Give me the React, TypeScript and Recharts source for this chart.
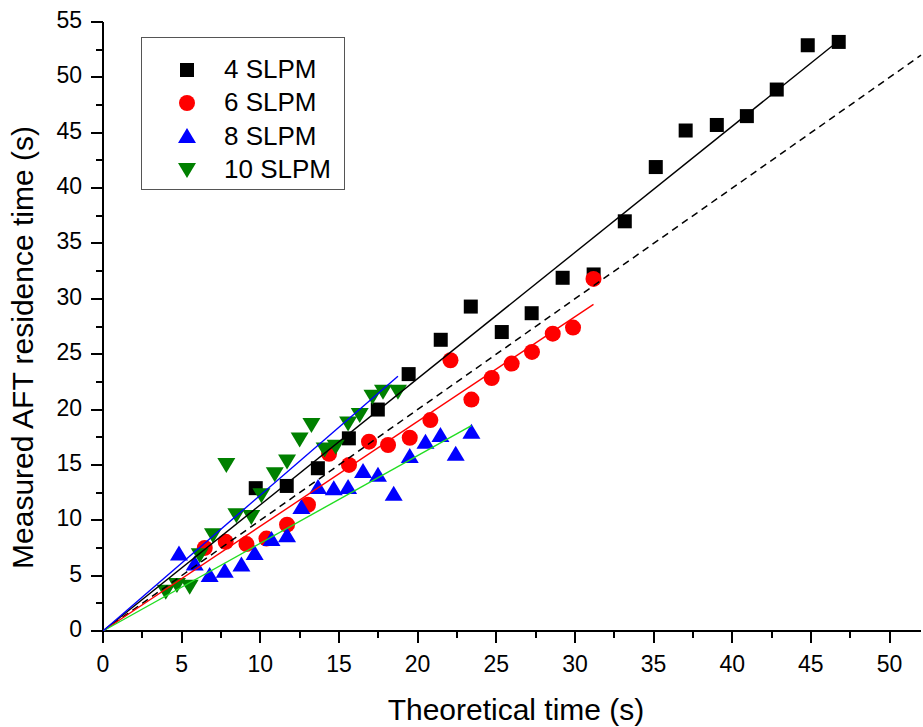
import { ScatterChart, Scatter, XAxis, YAxis, Legend } from 'recharts';

const seriesNames = ['4 SLPM', '6 SLPM', '8 SLPM', '10 SLPM'];
const markerColors = ['#000000', '#ff0000', '#0000ff', '#008000'];
const fitColors = ['#000000', '#ff0000', '#22dd22', '#0000ff'];

const x4 = [9.71, 11.68, 13.66, 15.63, 17.47, 19.43, 21.47, 23.38, 25.35, 27.25, 29.22, 31.19, 33.17, 35.14, 37.04, 39.02, 40.93, 42.83, 44.8, 46.77];
const y4 = [12.9, 13.1, 14.7, 17.4, 20.0, 23.2, 26.3, 29.3, 27.0, 28.7, 31.9, 32.2, 37.0, 41.9, 45.2, 45.7, 46.5, 48.9, 52.9, 53.2];

const x6 = [6.47, 7.8, 9.12, 10.39, 11.7, 13.03, 14.37, 15.64, 16.91, 18.12, 19.5, 20.81, 22.09, 23.42, 24.71, 25.98, 27.27, 28.59, 29.88, 31.18];
const y6 = [7.5, 8.05, 7.85, 8.35, 9.6, 11.4, 16.0, 15.0, 17.1, 16.8, 17.45, 19.05, 24.45, 20.9, 22.85, 24.15, 25.2, 26.85, 27.4, 31.8];

const x8 = [4.83, 5.83, 6.78, 7.74, 8.8, 9.64, 10.71, 11.7, 12.61, 13.67, 14.67, 15.58, 16.53, 17.48, 18.48, 19.5, 20.5, 21.45, 22.42, 23.42];
const y8 = [7.0, 6.1, 5.05, 5.45, 6.0, 7.05, 8.3, 8.65, 11.2, 13.0, 12.9, 13.0, 14.45, 14.1, 12.4, 15.8, 17.1, 17.7, 16.0, 18.0];

const x10 = [3.99, 4.7, 5.51, 6.15, 6.99, 7.84, 8.48, 9.43, 10.07, 10.92, 11.7, 12.5, 13.25, 14.09, 14.79, 15.58, 16.32, 17.13, 17.8, 18.75];
const y10 = [3.55, 4.15, 4.0, 6.85, 8.65, 15.0, 10.45, 10.3, 12.25, 14.15, 15.3, 17.3, 18.6, 16.4, 16.65, 18.75, 19.5, 21.15, 21.6, 21.6];

// fitted lines through the origin: end point of each
const fitEndX = [46.77, 31.18, 23.42, 18.75];
const fitEndY = [53.3, 29.5, 18.55, 23.0];
// y = x reference line
const refX = [0, 52];
const refY = [0, 52];

const xTicks = [0, 2.5, 5, 7.5, 10, 12.5, 15, 17.5, 20, 22.5, 25, 27.5, 30, 32.5, 35, 37.5, 40, 42.5, 45, 47.5, 50];
const yTicks = [0, 2.5, 5, 7.5, 10, 12.5, 15, 17.5, 20, 22.5, 25, 27.5, 30, 32.5, 35, 37.5, 40, 42.5, 45, 47.5, 50, 52.5, 55];

const FONT = '"Liberation Sans", Arial, sans-serif';

const toPoints = (xs: number[], ys: number[]) => xs.map((x, i) => ({ x, y: ys[i] }));
const seriesData = [toPoints(x4, y4), toPoints(x6, y6), toPoints(x8, y8), toPoints(x10, y10)];
const fitData = fitEndX.map((x, i) => [{ x: 0, y: 0 }, { x, y: fitEndY[i] }]);
const refData = toPoints(refX, refY);

const drawMarker = (kind: number, cx: number, cy: number, color: string) => {
  if (kind === 0) return <rect x={cx - 7} y={cy - 7} width={14} height={14} fill={color} />;
  if (kind === 1) return <circle cx={cx} cy={cy} r={8} fill={color} />;
  if (kind === 2) return <polygon points={`${cx},${cy - 8} ${cx + 9},${cy + 7} ${cx - 9},${cy + 7}`} fill={color} />;
  return <polygon points={`${cx},${cy + 8} ${cx + 9},${cy - 7} ${cx - 9},${cy - 7}`} fill={color} />;
};

const XTick = (props: any) => {
  const { x, y, payload } = props;
  const major = payload.value % 5 === 0;
  return (
    <g>
      <line x1={x} y1={y} x2={x} y2={y + (major ? 12 : 7)} stroke="#000" strokeWidth={2} shapeRendering="crispEdges" />
      {major && (
        <text x={x} y={y + 41} textAnchor="middle" fontSize={23} fontFamily={FONT} fill="#000">
          {payload.value}
        </text>
      )}
    </g>
  );
};

const YTick = (props: any) => {
  const { x, y, payload } = props;
  const major = payload.value % 5 === 0;
  return (
    <g>
      <line x1={x} y1={y} x2={x - (major ? 12 : 7)} y2={y} stroke="#000" strokeWidth={2} shapeRendering="crispEdges" />
      {major && (
        <text x={x - 21} y={y + 6} textAnchor="end" fontSize={23} fontFamily={FONT} fill="#000">
          {payload.value}
        </text>
      )}
    </g>
  );
};

const XTitle = (props: any) => {
  const vb = props.viewBox;
  return (
    <text x={vb.x + vb.width / 2 + 4} y={vb.y + 89} textAnchor="middle" fontSize={30} fontFamily={FONT} fill="#000">
      Theoretical time (s)
    </text>
  );
};

const YTitle = (props: any) => {
  const vb = props.viewBox;
  const cy = vb.y + vb.height / 2 + 21;
  return (
    <text x={33} y={cy} transform={`rotate(-90 33 ${cy})`} textAnchor="middle" fontSize={30} fontFamily={FONT} fill="#000">
      Measured AFT residence time (s)
    </text>
  );
};

const LegendBox = () => (
  <div
    style={{
      width: 204,
      height: 153,
      border: '1.5px solid #555',
      background: '#fff',
      fontFamily: FONT,
      fontSize: 26,
      boxSizing: 'border-box',
      paddingTop: 15,
    }}
  >
    {seriesNames.map((name, i) => (
      <div key={name} style={{ display: 'flex', alignItems: 'center', height: 33.3 }}>
        <svg width={82} height={30} style={{ flex: 'none' }}>
          {drawMarker(i, 45, 15, markerColors[i])}
        </svg>
        <span style={{ marginLeft: 0, color: '#000' }}>{name}</span>
      </div>
    ))}
  </div>
);

const noMarker = () => <g />;

export default function App() {
  return (
    <div style={{ position: 'absolute', left: 0, top: 0, background: '#fff' }}>
      <ScatterChart width={923} height={727} margin={{ top: 22, right: 2, bottom: 0, left: 0 }}>
        <XAxis
          type="number"
          dataKey="x"
          domain={[0, 52]}
          ticks={xTicks}
          interval={0}
          tickSize={0}
          tickMargin={0}
          tickLine={false}
          tick={<XTick />}
          height={96}
          axisLine={{ stroke: '#000', strokeWidth: 2.5, shapeRendering: 'crispEdges' }}
          label={<XTitle />}
        />
        <YAxis
          type="number"
          dataKey="y"
          domain={[0, 55]}
          ticks={yTicks}
          interval={0}
          tickSize={0}
          tickMargin={0}
          tickLine={false}
          tick={<YTick />}
          width={103}
          axisLine={{ stroke: '#000', strokeWidth: 2.5, shapeRendering: 'crispEdges' }}
          label={<YTitle />}
        />
        <Legend
          layout="vertical"
          align="center"
          verticalAlign="middle"
          content={<LegendBox />}
          wrapperStyle={{ left: 141, top: 37, width: 204, height: 153 }}
        />
        {seriesData.map((d, i) => (
          <Scatter
            key={seriesNames[i]}
            name={seriesNames[i]}
            data={d}
            isAnimationActive={false}
            shape={(p: any) => drawMarker(i, p.cx, p.cy, markerColors[i])}
          />
        ))}
        <Scatter
          name="y = x"
          data={refData}
          isAnimationActive={false}
          legendType="none"
          line={{ stroke: '#000', strokeWidth: 1.5, strokeDasharray: '7 5' }}
          shape={noMarker}
        />
        {fitData.map((d, i) => (
          <Scatter
            key={'fit' + i}
            name={'fit ' + seriesNames[i]}
            data={d}
            isAnimationActive={false}
            legendType="none"
            line={{ stroke: fitColors[i], strokeWidth: 1.4 }}
            shape={noMarker}
          />
        ))}
      </ScatterChart>
    </div>
  );
}
